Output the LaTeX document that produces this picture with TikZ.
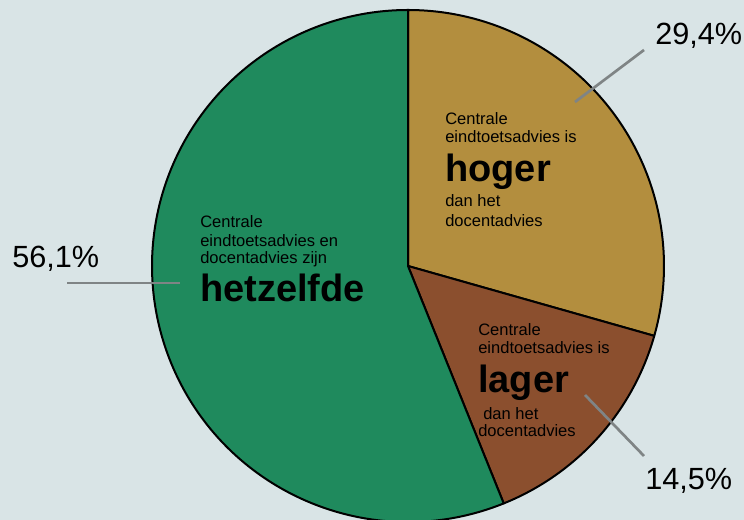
\documentclass[tikz,border=0pt]{standalone}
\usepackage{fontspec}
\setmainfont{Liberation Sans}
\usetikzlibrary{positioning}

\definecolor{bgblue}{HTML}{D9E4E6}
\definecolor{piegreen}{HTML}{1F8A5D}
\definecolor{piegold}{HTML}{B38E3E}
\definecolor{piebrown}{HTML}{8B4F2E}
\definecolor{leadgray}{HTML}{7F8485}

\tikzset{
    slice/.style={draw=black, line width=1.5pt, line join=round},
    leader/.style={draw=leadgray, line width=2pt},
    smalltxt/.style={anchor=base west, inner sep=0pt, font=\fontsize{12.4}{14}\selectfont},
    bigtxt/.style={anchor=base west, inner sep=0pt, font=\fontsize{28.5}{32}\selectfont\bfseries},
    pcttxt/.style={anchor=base west, inner sep=0pt, font=\fontsize{23}{26}\selectfont}
}

\begin{document}
\begin{tikzpicture}[x=0.75pt, y=0.75pt]
    % Background
    \fill[bgblue] (0,0) rectangle (744,520);
    \useasboundingbox (0,0) rectangle (744,520);

    % Pie slices
    \coordinate (centre) at (408,254);
    \filldraw[slice, fill=piegold] (centre) -- ++(90:256) arc (90:-15.84:256) -- cycle;
    \filldraw[slice, fill=piebrown] (centre) -- ++(-15.84:256) arc (-15.84:-68.04:256) -- cycle;
    \filldraw[slice, fill=piegreen] (centre) -- ++(-68.04:256) arc (-68.04:-270:256) -- cycle;

    % Text in gold slice
    \node[smalltxt] (hoger1) at (445,395) {Centrale};
    \node[smalltxt] (hoger2) at (445,377) {eindtoetsadvies is};
    \node[bigtxt]   (hoger3) at (445,338) {hoger};
    \node[smalltxt] (hoger4) at (445,313) {dan het};
    \node[smalltxt] (hoger5) at (445,293) {docentadvies};

    % Text in green slice
    \node[smalltxt] (zelfde1) at (200,292) {Centrale};
    \node[smalltxt] (zelfde2) at (200,273) {eindtoetsadvies en};
    \node[smalltxt] (zelfde3) at (200,256) {docentadvies zijn};
    \node[bigtxt]   (zelfde4) at (200,218) {hetzelfde};

    % Text in brown slice
    \node[smalltxt] (lager1) at (478,184) {Centrale};
    \node[smalltxt] (lager2) at (478,166) {eindtoetsadvies is};
    \node[bigtxt]   (lager3) at (478,127) {lager};
    \node[smalltxt] (lager4) at (483,100) {dan het};
    \node[smalltxt] (lager5) at (478,83) {docentadvies};

    % Percentages
    \node[pcttxt] (pcthoger) at (655,475) {29,4\%};
    \node[pcttxt] (pctzelfde) at (12,252) {56,1\%};
    \node[pcttxt] (pctlager) at (645,30) {14,5\%};

    % Leader lines
    \coordinate (hogerin) at (575,418);
    \coordinate (hogerout) at (644,470);
    \coordinate (zelfdein) at (180,237);
    \coordinate (zelfdeout) at (67,237);
    \coordinate (lagerin) at (585,125);
    \coordinate (lagerout) at (644,64);
    \draw[leader] (hogerin) -- (hogerout);
    \draw[leader] (zelfdein) -- (zelfdeout);
    \draw[leader] (lagerin) -- (lagerout);
\end{tikzpicture}
\end{document}
